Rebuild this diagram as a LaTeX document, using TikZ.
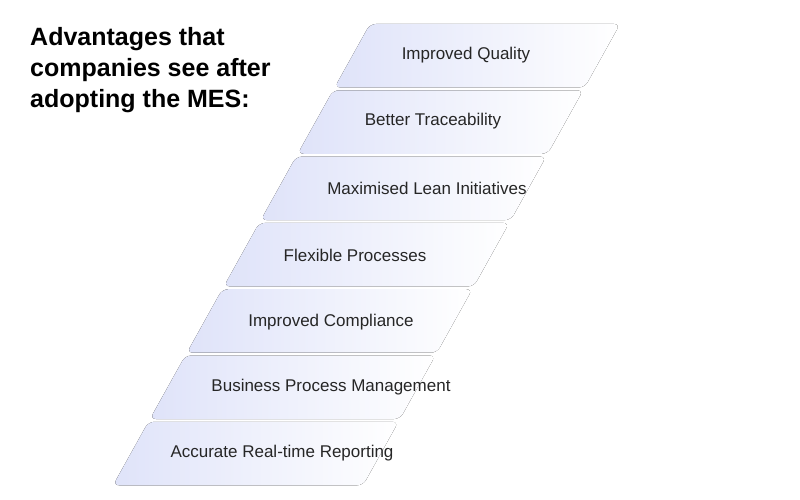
\documentclass[tikz,border=0pt]{standalone}
\usepackage{fontspec}
\setmainfont{Liberation Sans}
\definecolor{bandblue}{HTML}{DFE3F9}
\tikzset{
    band/.style={left color=bandblue, right color=white, draw=none},
    bandtext/.style={font=\fontsize{17}{20}\selectfont, text=black!85},
    title/.style={font=\bfseries\fontsize{25}{31}\selectfont, align=left, anchor=north west}
}
\begin{document}
\begin{tikzpicture}[x=1pt,y=-1pt]
    \useasboundingbox[fill=white] (0,0) rectangle (800,500);
    %bands
    \foreach \i in {0,...,6}{
        \pgfmathsetmacro{\yt}{24+66.3*\i}
        \pgfmathsetmacro{\yb}{\yt+63.5}
        \pgfmathsetmacro{\xt}{370-0.557*(\yt-24)}
        \pgfmathsetmacro{\xb}{370-0.557*(\yb-24)}
        \fill[band, rounded corners=6] (\xt,\yt) -- (\xt+250,\yt) -- (\xb+250,\yb) -- (\xb,\yb) -- cycle;
    }
    %labels
    \node[bandtext] (b1) at (466,55) {Improved Quality};
    \node[bandtext] (b2) at (433,121) {Better Traceability};
    \node[bandtext] (b3) at (427,188) {Maximised Lean Initiatives};
    \node[bandtext] (b4) at (355,255) {Flexible Processes};
    \node[bandtext] (b5) at (331,322) {Improved Compliance};
    \node[bandtext] (b6) at (331,387) {Business Process Management};
    \node[bandtext] (b7) at (282,453) {Accurate Real-time Reporting};
    %title
    \node[title, inner sep=0pt] (title) at (30,27) {Advantages that\\companies see after\\adopting the MES:};
\end{tikzpicture}
\end{document}
